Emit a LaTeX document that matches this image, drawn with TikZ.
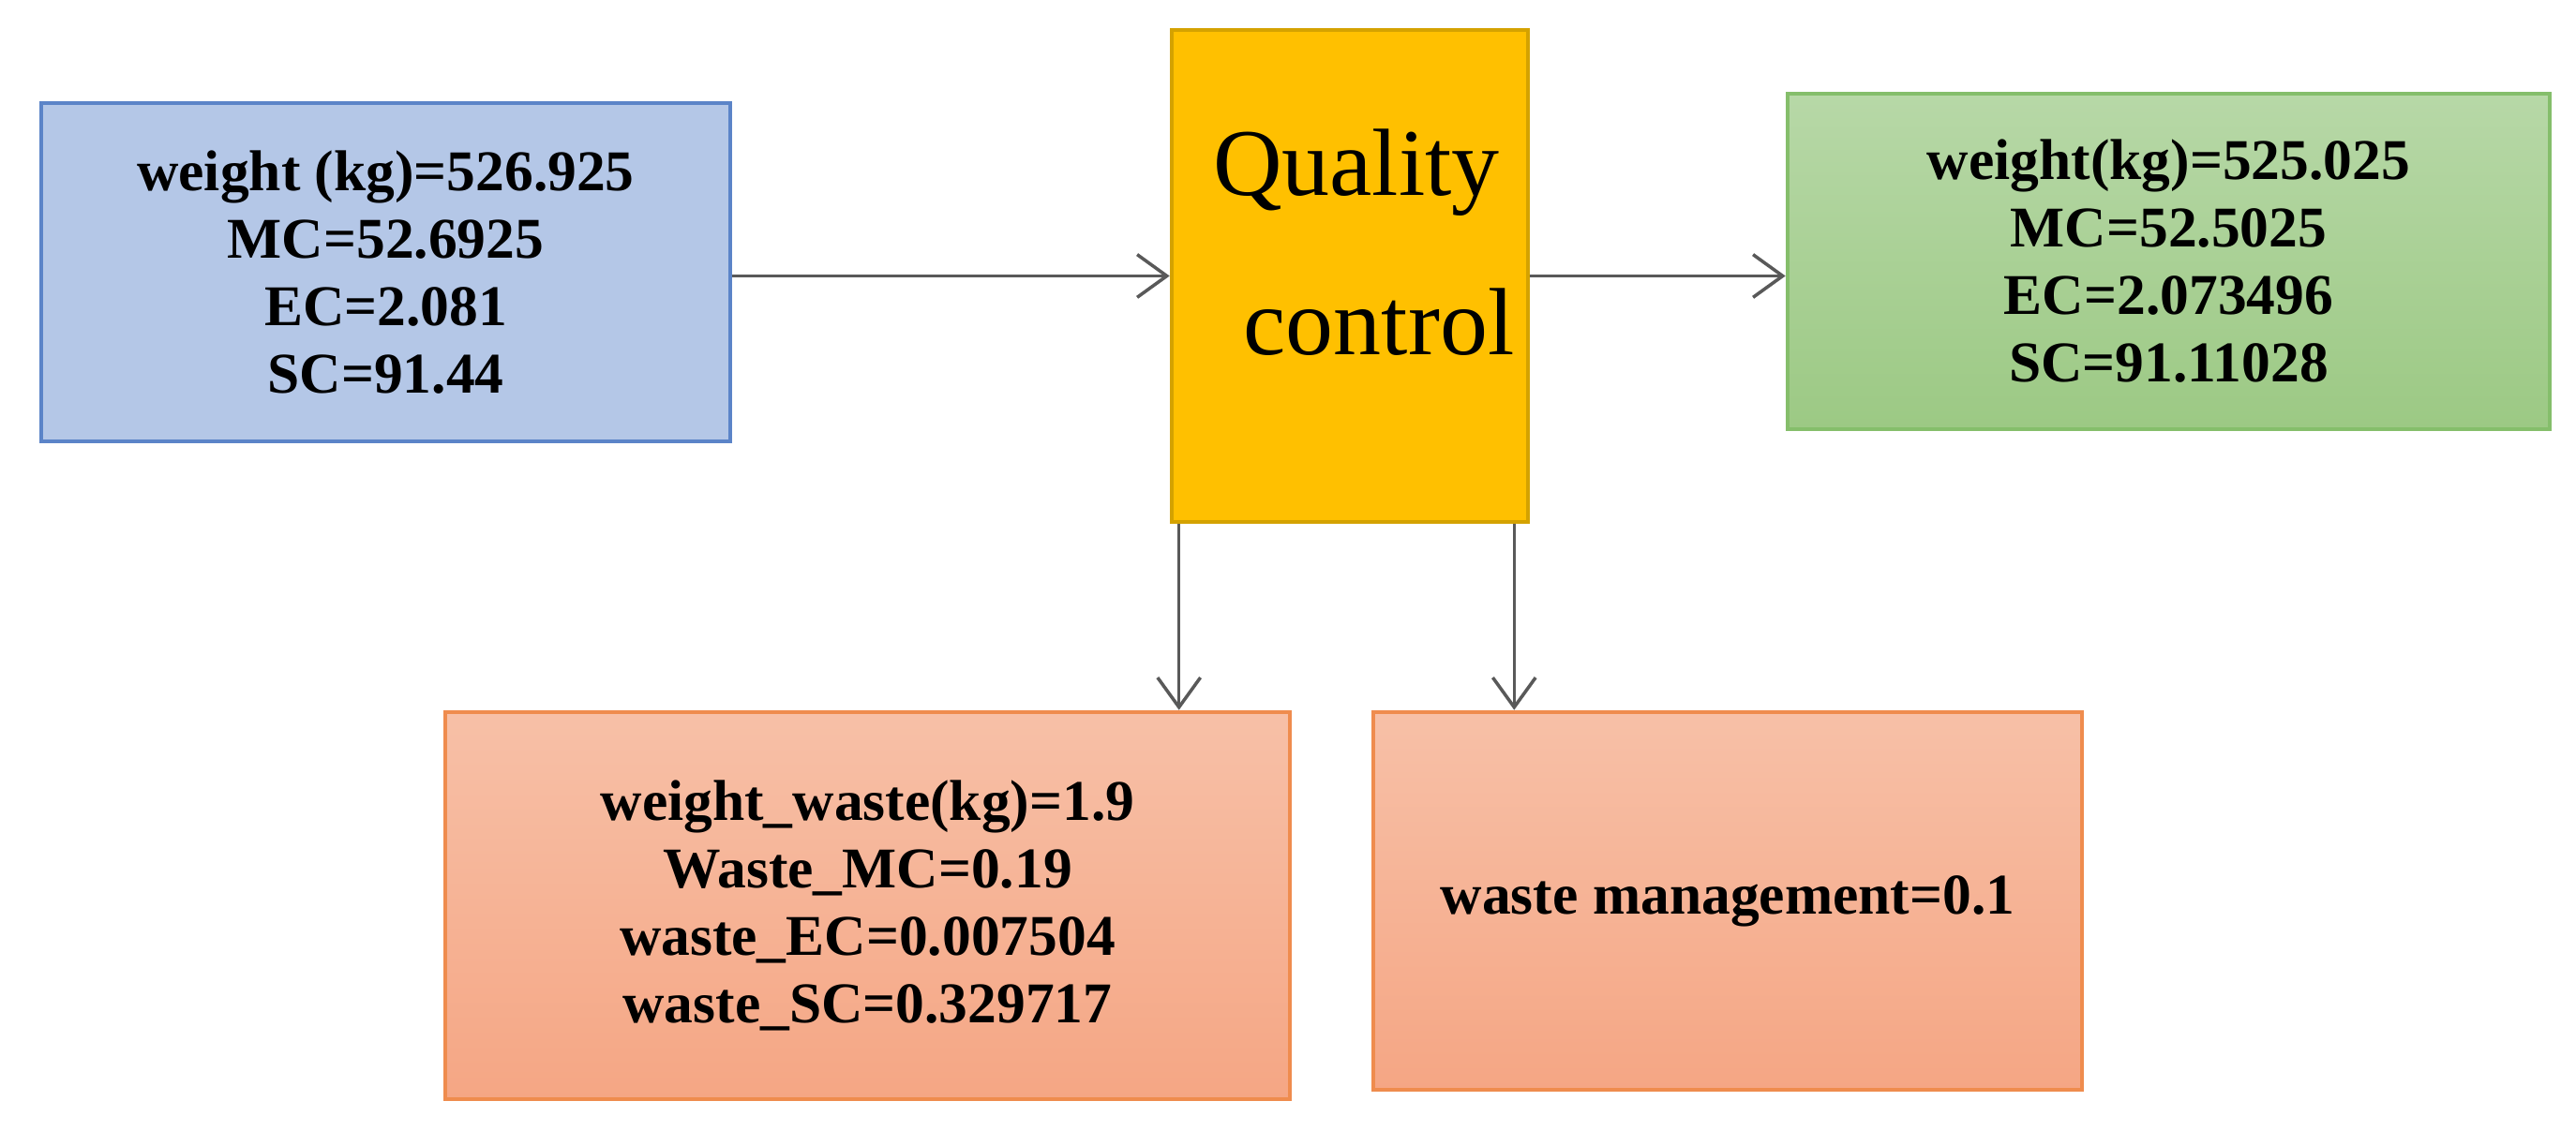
\documentclass[tikz,border=0pt]{standalone}
\usepackage{fontspec}
\setmainfont{Liberation Serif}
\usetikzlibrary{arrows.meta}

\definecolor{inblue}{HTML}{B4C7E7}
\definecolor{inblueline}{HTML}{5B84C8}
\definecolor{qcyellow}{HTML}{FFC000}
\definecolor{qcline}{HTML}{D4A200}
\definecolor{outgreentop}{HTML}{B7D8A7}
\definecolor{outgreenbot}{HTML}{9CC984}
\definecolor{outgreenline}{HTML}{85BE6B}
\definecolor{wastetop}{HTML}{F7C0A7}
\definecolor{wastebot}{HTML}{F5A684}
\definecolor{wasteline}{HTML}{EF8C4E}

\begin{document}
\begin{tikzpicture}[
    box/.style={rectangle, draw, line width=1.3pt, inner sep=0pt, align=center,
      font=\bfseries\fontsize{17.5}{20.5}\selectfont},
    flow/.style={draw=black!65, line width=1pt, -{Straight Barb[length=9pt, width=13pt]}}
  ]
      \useasboundingbox (0,0) rectangle (27.48,12.06);

      % input, quality control and output
      \node[box, fill=inblue, draw=inblueline, minimum width=7.35cm, minimum height=3.61cm] (input) at (4.115,9.155)
        {weight (kg)=526.925\\MC=52.6925\\EC=2.081\\SC=91.44};
      \node[rectangle, draw=qcline, fill=qcyellow, line width=1.3pt, minimum width=3.8cm, minimum height=5.25cm] (qc) at (14.40,9.115) {};
      \node[anchor=north, inner sep=0pt, align=center, font=\fontsize{29}{48.4}\selectfont] (qctext) at (14.47,10.69)
        {Quality\\\hspace*{0.48cm}control};
      \node[box, top color=outgreentop, bottom color=outgreenbot, draw=outgreenline, minimum width=8.13cm, minimum height=3.58cm] (output) at (23.135,9.27)
        {weight(kg)=525.025\\MC=52.5025\\EC=2.073496\\SC=91.11028};

      % waste
      \node[box, top color=wastetop, bottom color=wastebot, draw=wasteline, minimum width=9.01cm, minimum height=4.13cm] (waste) at (9.255,2.395)
        {weight\_waste(kg)=1.9\\Waste\_MC=0.19\\waste\_EC=0.007504\\waste\_SC=0.329717};
      \node[box, top color=wastetop, bottom color=wastebot, draw=wasteline, minimum width=7.56cm, minimum height=4.03cm] (wm) at (18.43,2.445)
        {waste management=0.1};

      \draw[flow] (input.east |- qc.west) -- (qc.west);
      \draw[flow] (qc.east) -- (qc.east -| output.west);
      \draw[flow] ([xshift=0.1cm]qc.south west) -- ([xshift=0.1cm]qc.south west |- waste.north);
      \draw[flow] ([xshift=-0.17cm]qc.south east) -- ([xshift=-0.17cm]qc.south east |- wm.north);
    \end{tikzpicture}
\end{document}
